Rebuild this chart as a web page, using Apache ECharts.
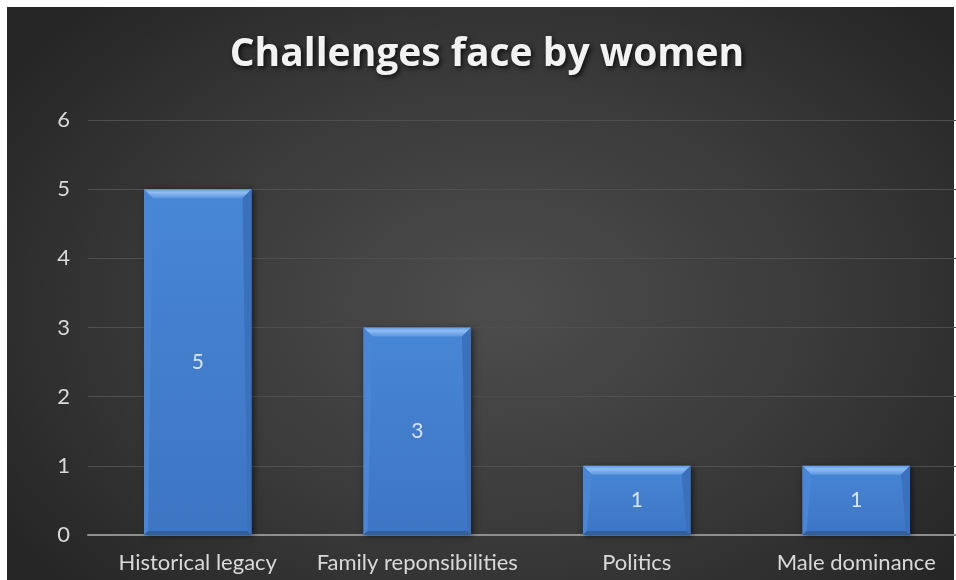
<!DOCTYPE html>
<html>
<head>
<meta charset="utf-8">
<script src="https://cdn.jsdelivr.net/npm/echarts@6/dist/echarts.min.js"></script>
<style>
  html, body { margin: 0; padding: 0; background: #ffffff; overflow: hidden; width: 956px; height: 580px; }
  #backdrop {
    position: absolute; left: 7px; top: 7px; width: 947px; height: 573px;
    background: radial-gradient(ellipse 62% 72% at 52% 52%, #4d4d4d 0%, #3a3a3a 55%, #262626 100%);
  }
  #chart { position: absolute; left: 0; top: 0; width: 976px; height: 580px; }
</style>
</head>
<body>
<div id="backdrop"></div>
<div id="chart"></div>
<script>
// Chart content
const chartTitle = 'Challenges face by women';
const categories = ['Historical legacy', 'Family reponsibilities', 'Politics', 'Male dominance'];
const counts = [5, 3, 1, 1];
const yTicks = [0, 1, 2, 3, 4, 5, 6];

const BAR_RATIO = 0.49;
const FONT = 'Lato, "Open Sans", sans-serif';

const chart = echarts.init(document.getElementById('chart'), null, { renderer: 'canvas' });

// Bevelled edges drawn over each bar, positioned from the axis scales
function renderBevel(params, api) {
  const idx = api.value(0);
  const v = api.value(1);
  const top = api.coord([idx, v]);
  const base = api.coord([idx, 0]);
  const w = api.size([1, 0])[0] * BAR_RATIO;
  const x0 = top[0] - w / 2, x1 = top[0] + w / 2;
  const y0 = top[1], y1 = base[1];
  const t = 9, s = 4, b = 4;
  return {
    type: 'group',
    children: [
      { type: 'polygon', shape: { points: [[x0, y0], [x1, y0], [x1 - t, y0 + t], [x0 + t, y0 + t]] },
        style: { fill: new echarts.graphic.LinearGradient(0, 0, 0, 1, [
          { offset: 0, color: '#5f9ae4' }, { offset: 0.35, color: '#8fbdf3' }, { offset: 1, color: '#5b95df' }]) } },
      { type: 'polygon', shape: { points: [[x0, y0], [x0 + t, y0 + t], [x0 + s, y1 - b], [x0, y1]] },
        style: { fill: '#4a86d6' } },
      { type: 'polygon', shape: { points: [[x1, y0], [x1 - t, y0 + t], [x1 - s, y1 - b], [x1, y1]] },
        style: { fill: '#3b70bd' } },
      { type: 'polygon', shape: { points: [[x0, y1], [x0 + s, y1 - b], [x1 - s, y1 - b], [x1, y1]] },
        style: { fill: '#30609f' } }
    ]
  };
}

chart.setOption({
  backgroundColor: 'transparent',
  animation: false,
  title: {
    text: chartTitle,
    left: 482,
    textAlign: 'center',
    top: 30,
    textStyle: {
      color: '#f2f2f2',
      fontFamily: '"Open Sans", Lato, sans-serif',
      fontWeight: 'bold',
      fontSize: 39,
      textShadowColor: 'rgba(0,0,0,0.75)',
      textShadowBlur: 5,
      textShadowOffsetX: 2,
      textShadowOffsetY: 2
    }
  },
  grid: { left: 88, right: 10, top: 120, bottom: 45, containLabel: false },
  xAxis: {
    type: 'category',
    data: categories,
    axisLine: { lineStyle: { color: '#8f8f8f', width: 2 } },
    axisTick: { show: false },
    axisLabel: { color: '#d9d9d9', fontFamily: FONT, fontSize: 22, margin: 17, interval: 0 }
  },
  yAxis: {
    type: 'value',
    min: yTicks[0],
    max: yTicks[yTicks.length - 1],
    interval: 1,
    axisLine: { show: false },
    axisTick: { show: false },
    axisLabel: { color: '#d9d9d9', fontFamily: FONT, fontSize: 22, margin: 18 },
    splitLine: { lineStyle: { color: '#4f4f4f', width: 1 } }
  },
  series: [
    {
      type: 'bar',
      data: counts,
      barWidth: (BAR_RATIO * 100) + '%',
      itemStyle: {
        color: new echarts.graphic.LinearGradient(0, 0, 0, 1, [
          { offset: 0, color: '#4886d6' }, { offset: 1, color: '#3d75c3' }]),
        shadowColor: 'rgba(0,0,0,0.55)',
        shadowBlur: 6,
        shadowOffsetX: 2,
        shadowOffsetY: 1
      },
      label: {
        show: true,
        position: 'inside',
        color: '#dce6f2',
        fontFamily: FONT,
        fontSize: 21
      },
      z: 2
    },
    {
      type: 'custom',
      data: counts.map((v, i) => [i, v]),
      renderItem: renderBevel,
      silent: true,
      z: 3
    }
  ]
});
</script>
</body>
</html>
